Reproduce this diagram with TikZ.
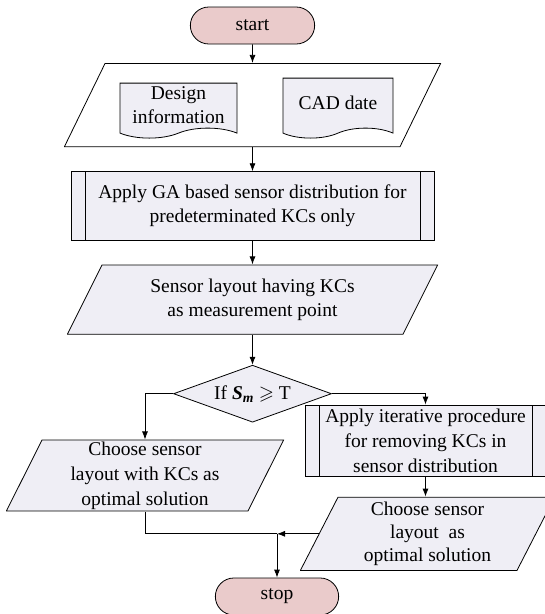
\documentclass[tikz,border=0pt]{standalone}
\usepackage{amsmath}
\usepackage{amssymb}
\usepackage{fontspec}
\setmainfont{Liberation Serif}
\usepackage{tikz}
\usetikzlibrary{positioning,calc,arrows.meta,shapes.geometric,shapes.misc,shapes.symbols}

\definecolor{termpink}{RGB}{234,203,203}
\definecolor{boxgray}{RGB}{239,238,245}

\begin{document}
\begin{tikzpicture}[x=1pt,y=-1pt,font=\fontsize{19.5}{24}\selectfont,
		term/.style={draw=black,fill=termpink,rounded rectangle,minimum width=131pt,minimum height=37pt,line width=0.8pt},
		io/.style 2 args={rectangle,inner sep=2pt,align=center,
			path picture={\draw[line width=0.8pt,fill=#2] ([xshift=#1,yshift=-0.4pt]path picture bounding box.north west)--([xshift=-0.4pt,yshift=-0.4pt]path picture bounding box.north east)--([xshift=-#1,yshift=0.4pt]path picture bounding box.south east)--([xshift=0.4pt,yshift=0.4pt]path picture bounding box.south west)--cycle;}},
		doc/.style={draw=black,fill=boxgray,tape,tape bend top=none,tape bend height=10pt,inner sep=2pt,align=center,line width=0.8pt},
		proc/.style={draw=black,fill=boxgray,rectangle,align=center,line width=0.8pt,
			path picture={\draw[line width=0.8pt] ([xshift=14pt]path picture bounding box.north west)--([xshift=14pt]path picture bounding box.south west);
				\draw[line width=0.8pt] ([xshift=-14pt]path picture bounding box.north east)--([xshift=-14pt]path picture bounding box.south east);}},
		link/.style={-{Latex[length=8pt,width=6pt]},line width=0.8pt}]
		\useasboundingbox (0,0) rectangle (545,614);
		
		\node[term] (start) at (252.5,25.5) {start};
		\node[io={41pt}{white},minimum width=377pt,minimum height=84pt,below=18.5pt of start] (input) {};
		\node[doc,minimum width=117pt,minimum height=55pt,shift={(-74,0.5)}] (design) at (input.center) {Design\\information};
		\node[doc,minimum width=110pt,minimum height=60pt,shift={(85.5,-2)}] (cad) at (input.center) {CAD date};
		\node[proc,minimum width=363pt,minimum height=69pt,below=24pt of input] (ga) {Apply GA based sensor distribution for\\predeterminated KCs only};
		\node[io={35pt}{boxgray},minimum width=371pt,minimum height=70pt,below=23.3pt of ga] (layout) {Sensor layout having KCs\\as measurement point};
		\node[draw=black,fill=boxgray,diamond,aspect=2.77,inner sep=0pt,minimum width=158pt,minimum height=57pt,line width=0.8pt,below=30pt of layout] (check) {If \textbf{\textit{S}}\textsubscript{\textbf{\textit{m}}} $\geqslant$ T};
		\node[io={36pt}{boxgray},font=\fontsize{19.5}{25}\selectfont,minimum width=278pt,minimum height=69pt] (optA) at (145,475.5) {Choose sensor\\layout with KCs as\\optimal solution};
		\node[proc,font=\fontsize{19.5}{25}\selectfont,minimum width=241pt,minimum height=71pt] (iter) at (425.5,440.5) {Apply iterative procedure\\for removing KCs in\\sensor distribution};
		\node[io={38pt}{boxgray},font=\fontsize{19.5}{23}\selectfont,minimum width=255pt,minimum height=74pt] (optB) at (427.5,533.8) {Choose sensor\\layout\ \ as\\optimal solution};
		\node[term,minimum width=130pt] (stop) at (277,596.5) {stop};
		\coordinate (join) at (stop.north |- optB.west);
		
		\draw[link] (start)--(input);
		\draw[link] (input)--(ga);
		\draw[link] (ga)--(layout);
		\draw[link] (layout)--(check);
		\draw[link] (check.west)-|(optA.north);
		\draw[link] (check.east)-|(iter.north);
		\draw[link] (iter.south)--(iter.south |- optB.north);
		\draw[line width=0.8pt] (optA.south)|-(join);
		\draw[link] ([xshift=19pt]optB.west)--(join);
		\draw[link] (join)--(stop.north);
	\end{tikzpicture}
\end{document}
